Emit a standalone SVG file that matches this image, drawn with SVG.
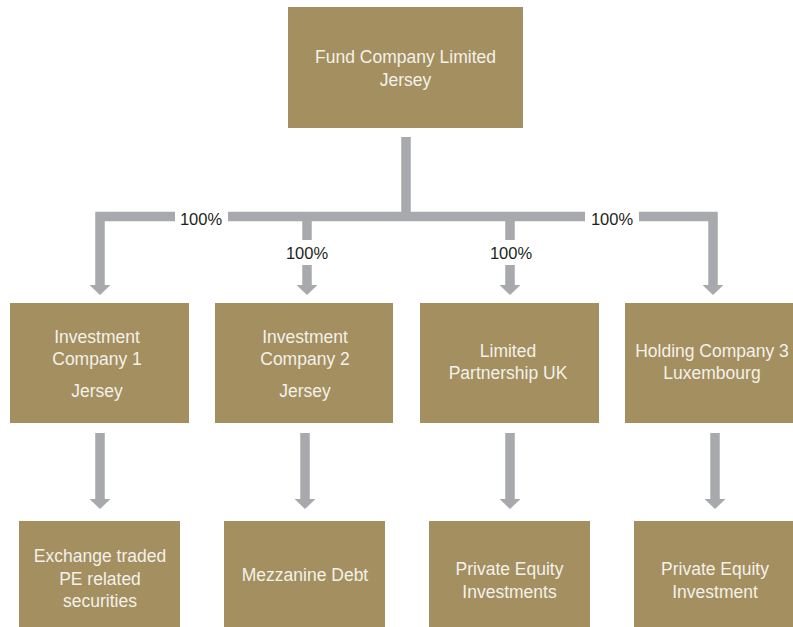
<svg xmlns="http://www.w3.org/2000/svg" width="793" height="627" viewBox="0 0 793 627">
<style>
.box{fill:#A38F5F}
.bt{font-family:"Liberation Sans",Arial,sans-serif;font-size:17.5px;fill:#F4F1EA;text-anchor:middle}
.lbl{font-family:"Liberation Sans",Arial,sans-serif;font-size:16.5px;fill:#231F20;text-anchor:middle}
.ln{fill:none;stroke:#A8A9AC;stroke-width:9.5;stroke-linejoin:miter}
.hd{fill:#A8A9AC}
</style>
<defs>
<polygon id="ah" points="-10.5,0 10.5,0 0,10"/>
</defs>
<rect width="793" height="627" fill="#FFFFFF"/>
<g id="connectors">
<path class="ln" d="M406 137 V216.5"/>
<path class="ln" d="M175 216.5 H100 V286"/>
<path class="ln" d="M228 216.5 H585"/>
<path class="ln" d="M639 216.5 H713 V286"/>
<path class="ln" d="M307 216 V240 M307 265 V286"/>
<path class="ln" d="M510 216 V240 M510 265 V286"/>
<use href="#ah" class="hd" x="100" y="285"/>
<use href="#ah" class="hd" x="307" y="285"/>
<use href="#ah" class="hd" x="510" y="285"/>
<use href="#ah" class="hd" x="713" y="285"/>
<path class="ln" d="M100 433 V500 M305 433 V500 M510 433 V500 M715 433 V500"/>
<use href="#ah" class="hd" x="100" y="499"/>
<use href="#ah" class="hd" x="305" y="499"/>
<use href="#ah" class="hd" x="510" y="499"/>
<use href="#ah" class="hd" x="715" y="499"/>
<text class="lbl" x="201" y="225">100%</text>
<text class="lbl" x="307" y="259">100%</text>
<text class="lbl" x="511" y="259">100%</text>
<text class="lbl" x="612" y="225">100%</text>
</g>
<g id="fund">
<rect class="box" x="288" y="7" width="235" height="121"/>
<text class="bt" x="405.5" y="63">Fund Company Limited</text>
<text class="bt" x="405.5" y="86">Jersey</text>
</g>
<g id="inv1">
<rect class="box" x="10" y="303" width="179" height="120"/>
<text class="bt" x="97" y="343">Investment</text>
<text class="bt" x="97" y="365">Company 1</text>
<text class="bt" x="97" y="397">Jersey</text>
</g>
<g id="inv2">
<rect class="box" x="215" y="303" width="178" height="120"/>
<text class="bt" x="305" y="343">Investment</text>
<text class="bt" x="305" y="365">Company 2</text>
<text class="bt" x="305" y="397">Jersey</text>
</g>
<g id="lp">
<rect class="box" x="420" y="303" width="179" height="120"/>
<text class="bt" x="508" y="357">Limited</text>
<text class="bt" x="508" y="379">Partnership UK</text>
</g>
<g id="hold3">
<rect class="box" x="625" y="303" width="179" height="120"/>
<text class="bt" x="712" y="357">Holding Company 3</text>
<text class="bt" x="712" y="379">Luxembourg</text>
</g>
<g id="etpe">
<rect class="box" x="19" y="521" width="161" height="106"/>
<text class="bt" x="100" y="562">Exchange traded</text>
<text class="bt" x="100" y="585">PE related</text>
<text class="bt" x="100" y="607">securities</text>
</g>
<g id="mezz">
<rect class="box" x="224" y="521" width="161" height="106"/>
<text class="bt" x="305" y="581">Mezzanine Debt</text>
</g>
<g id="pei">
<rect class="box" x="429" y="521" width="161" height="106"/>
<text class="bt" x="509.5" y="575">Private Equity</text>
<text class="bt" x="509.5" y="598">Investments</text>
</g>
<g id="pe">
<rect class="box" x="634" y="521" width="161" height="106"/>
<text class="bt" x="715" y="575">Private Equity</text>
<text class="bt" x="715" y="598">Investment</text>
</g>
</svg>
